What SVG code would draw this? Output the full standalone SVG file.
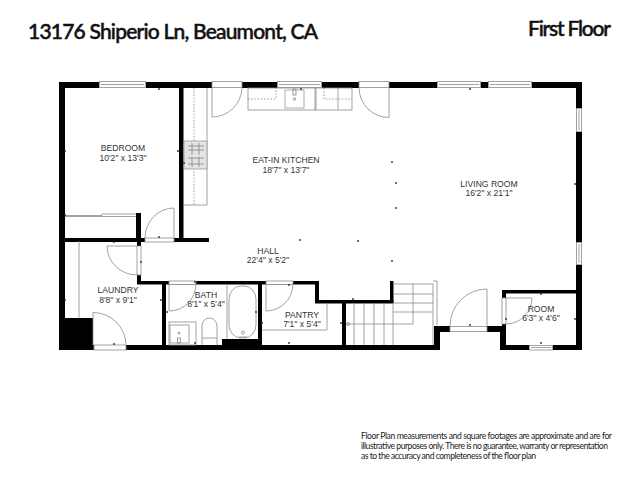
<svg xmlns="http://www.w3.org/2000/svg" width="640" height="480" viewBox="0 0 640 480">
<style>
text{font-family:"Liberation Sans",Arial,sans-serif;fill:#222}
.l{font-size:8.6px;text-anchor:middle;fill:#333}
.t{font-family:Lato,"Liberation Sans",sans-serif;font-size:21px;font-weight:500;fill:#111;stroke:#111;stroke-width:.5}
.n{font-family:Lato,"Liberation Sans",sans-serif;font-size:8.6px;fill:#222}
.w{fill:#000}
.g{fill:none;stroke:#8c8c8c;stroke-width:.8}
.f{fill:none;stroke:#777;stroke-width:.7}
.s{fill:none;stroke:#8c8c8c;stroke-width:.8;stroke-dasharray:1.6 1.6}
.o{fill:#fff;stroke:#999;stroke-width:.8}
.d{fill:#222}
</style>
<defs><rect id="dot" x="-.8" y="-.8" width="1.600" height="1.600" class="d"/></defs>
<rect width="640" height="480" fill="#fff"/>
<text class="t" x="28" y="39" textLength="290">13176 Shiperio Ln, Beaumont, CA</text>
<text class="t" x="528" y="36" textLength="83">First Floor</text>
<g id="walls">
<rect class="w" x="59" y="82" width="523" height="6"/>
<rect class="w" x="59" y="82" width="6" height="268"/>
<rect class="w" x="576" y="82" width="6" height="211"/>
<rect class="w" x="576" y="290" width="6" height="60"/>
<rect class="w" x="179" y="82" width="4.500" height="160"/>
<rect class="w" x="59" y="238" width="150" height="4"/>
<rect class="w" x="136" y="213" width="5" height="29"/>
<rect class="w" x="137" y="237" width="4" height="47"/>
<rect class="w" x="137" y="281" width="179" height="3.500"/>
<rect class="w" x="315" y="281" width="4" height="22"/>
<rect class="w" x="315" y="300" width="78.500" height="3.500"/>
<rect class="w" x="390" y="281" width="3.500" height="22"/>
<rect class="w" x="162" y="281" width="4" height="69"/>
<rect class="w" x="258" y="281" width="4" height="69"/>
<rect class="w" x="342" y="300" width="4" height="50"/>
<rect class="w" x="59" y="345" width="381" height="5"/>
<rect class="w" x="434" y="326" width="6" height="24"/>
<rect class="w" x="434" y="326" width="72" height="6"/>
<rect class="w" x="500" y="326" width="6" height="24"/>
<rect class="w" x="500" y="345" width="82" height="5"/>
<rect class="w" x="502" y="290" width="74" height="3.500"/>
<rect class="w" x="502" y="290" width="4" height="9"/>
<rect class="w" x="502" y="324" width="4" height="8"/>
<rect class="w" x="59" y="318" width="34" height="32"/>
<rect class="w" x="222" y="339" width="36" height="6"/>
</g>
<g id="openings">
<rect x="99" y="81" width="47" height="7" fill="#fff"/><rect class="g" x="99.500" y="81.500" width="46" height="6"/><path class="g" d="M101 84.500H144"/>
<rect x="212" y="81" width="30" height="7" fill="#fff"/><rect class="g" x="212" y="81.500" width="30" height="6"/>
<rect x="277" y="81" width="45" height="7" fill="#fff"/><rect class="g" x="277.500" y="81.500" width="44" height="6"/><path class="g" d="M279 84.500H320"/>
<rect x="359" y="81" width="30" height="7" fill="#fff"/><rect class="g" x="359" y="81.500" width="30" height="6"/>
<rect x="437" y="81" width="44" height="7" fill="#fff"/><rect class="g" x="437.500" y="81.500" width="43" height="6"/><path class="g" d="M439 84.500H479"/>
<rect x="488" y="81" width="44" height="7" fill="#fff"/><rect class="g" x="488.500" y="81.500" width="43" height="6"/><path class="g" d="M490 84.500H530"/>
<rect x="576" y="108" width="6" height="24" fill="#fff"/><rect class="g" x="576.500" y="108.500" width="5" height="23"/><path class="g" d="M579 110V130"/>
<rect x="576" y="242" width="6" height="23" fill="#fff"/><rect class="g" x="576.500" y="242.500" width="5" height="22"/><path class="g" d="M579 244V263"/>
<rect x="529" y="345" width="24" height="5" fill="#fff"/><rect class="g" x="529.500" y="345.500" width="23" height="4.500"/><path class="g" d="M531 347.500H551"/>
<rect x="145" y="238" width="29" height="4" fill="#fff"/><rect class="g" x="145" y="238" width="29" height="4"/>
<rect x="137" y="246" width="4" height="29" fill="#fff"/><rect class="g" x="137" y="246" width="4" height="29"/>
<rect x="94" y="345" width="32" height="5" fill="#fff"/><rect class="g" x="94" y="345" width="32" height="5"/>
<rect x="169" y="281" width="27" height="3.500" fill="#fff"/><rect class="g" x="169" y="281" width="27" height="3.500"/>
<rect x="266" y="281" width="27" height="3.500" fill="#fff"/><rect class="g" x="266" y="281" width="27" height="3.500"/>
<rect x="450" y="326" width="37" height="6" fill="#fff"/><rect class="g" x="450" y="326.500" width="37" height="5"/>
<rect x="502" y="298" width="4" height="26" fill="#fff"/><rect class="g" x="502" y="298" width="4" height="26"/>
<rect x="65" y="214" width="71" height="3" fill="#fff"/><path class="g" d="M65 216.500H136M65 215.500H102V214H136"/>
</g>
<g id="doors">
<path class="g" d="M212 88V117A30 30 0 0 0 242 88"/>
<path class="g" d="M389 88V117.500A30 30 0 0 1 359 88"/>
<path class="g" d="M174 238V208A29 30 0 0 0 145 238"/>
<path class="g" d="M137 246H107A30 29 0 0 0 137 275"/>
<path class="g" d="M93 345V312.500A33 33 0 0 1 126 345"/>
<path class="g" d="M169 284V311A27 27 0 0 0 196 284"/>
<path class="g" d="M266 284V311A27 27 0 0 0 293 284"/>
<path class="g" d="M487 326V289A37 37 0 0 0 450 326"/>
<path class="g" d="M506 298H532A26 26 0 0 1 506 324"/>
</g>
<g id="fixtures">
<path class="g" d="M183 205H207V88"/><path class="s" d="M194 88V205"/>
<rect x="184" y="141" width="23" height="28" fill="#e4e4e4" stroke="#999" stroke-width=".8"/>
<path class="f" d="M188 146H204M188 150H204M188 158H204M188 164H204M192 143V155M199 143V155M192 157V167M199 157V167"/>
<rect class="g" x="248" y="88" width="104" height="22"/>
<path class="s" d="M248 99H276V88M324 88V99H352"/>
<path class="g" d="M315 88V110M316 88V110M338 88V110"/>
<rect class="o" x="285" y="90" width="19" height="18"/>
<rect class="f" x="293" y="89" width="3" height="6"/><circle class="f" cx="294.500" cy="99" r="1.200"/>
<path class="g" d="M79 241V318"/>
<rect class="g" x="169" y="322" width="27" height="23"/>
<rect class="g" x="170" y="325" width="19" height="18"/>
<circle class="f" cx="179" cy="333" r="1"/><rect class="f" x="177.500" y="338" width="3" height="5"/>
<path class="g" d="M202 345V326A7.500 8 0 0 1 217 326V345M202 338H217"/>
<path class="g" d="M227 284V339"/>
<rect class="g" x="229" y="286" width="27" height="52" rx="12" ry="13"/>
<circle class="f" cx="243" cy="332.500" r="1.500"/><path class="f" d="M239 337H247"/>
<path class="g" d="M262 330H327V303"/>
<path class="g" d="M354 303V345M364 303V345M374 303V345M384 303V345M393 303V345M393 284H433M393 294H433M393 303H433M393 312H433M347 324H413M413 284V324M433 284V345M437 281V325M433 281H437"/>
<circle class="f" cx="348" cy="324" r="1.500"/>
</g>
<g id="fittings">
<use href="#dot" x="159" y="89"/><use href="#dot" x="65" y="151"/><use href="#dot" x="178" y="151"/><use href="#dot" x="184" y="163"/>
<use href="#dot" x="65" y="215"/><use href="#dot" x="159" y="237"/><use href="#dot" x="114" y="242"/><use href="#dot" x="141" y="262"/>
<use href="#dot" x="65" y="300"/><use href="#dot" x="161" y="300"/><use href="#dot" x="114" y="344"/><use href="#dot" x="167" y="312"/>
<use href="#dot" x="195" y="282"/><use href="#dot" x="195" y="343"/><use href="#dot" x="256" y="312"/><use href="#dot" x="262" y="323"/>
<use href="#dot" x="289" y="285"/><use href="#dot" x="289" y="343"/><use href="#dot" x="341" y="323"/><use href="#dot" x="353" y="299"/>
<use href="#dot" x="300" y="240"/><use href="#dot" x="358" y="241"/><use href="#dot" x="392" y="261"/><use href="#dot" x="392" y="162"/>
<use href="#dot" x="396" y="183"/><use href="#dot" x="396" y="208"/><use href="#dot" x="301" y="89"/><use href="#dot" x="470" y="89"/>
<use href="#dot" x="575" y="184"/><use href="#dot" x="541" y="294"/><use href="#dot" x="506" y="319"/><use href="#dot" x="575" y="319"/>
<use href="#dot" x="541" y="343"/><use href="#dot" x="470" y="325"/>
</g>
<g id="bedroom"><text class="l" x="123" y="151">BEDROOM</text><text class="l" x="123" y="161">10'2" x 13'3"</text></g>
<g id="kitchen"><text class="l" x="286" y="163">EAT-IN KITCHEN</text><text class="l" x="286" y="173">18'7" x 13'7"</text></g>
<g id="living-room"><text class="l" x="489" y="187">LIVING ROOM</text><text class="l" x="489" y="196">16'2" x 21'1"</text></g>
<g id="hall"><text class="l" x="268" y="254">HALL</text><text class="l" x="268" y="263">22'4" x 5'2"</text></g>
<g id="laundry"><text class="l" x="118" y="293">LAUNDRY</text><text class="l" x="118" y="303">8'8" x 9'1"</text></g>
<g id="bath"><text class="l" x="206" y="298">BATH</text><text class="l" x="206" y="307">8'1" x 5'4"</text></g>
<g id="pantry"><text class="l" x="302" y="318">PANTRY</text><text class="l" x="302" y="327">7'1" x 5'4"</text></g>
<g id="room"><text class="l" x="541" y="312">ROOM</text><text class="l" x="541" y="321">6'3" x 4'6"</text></g>
<g id="note">
<text class="n" x="361" y="439" textLength="251">Floor Plan measurements and square footages are approximate and are for</text>
<text class="n" x="361" y="449" textLength="247">illustrative purposes only. There is no guarantee, warranty or representation</text>
<text class="n" x="361" y="459" textLength="175">as to the accuracy and completeness of the floor plan</text>
</g>
</svg>
